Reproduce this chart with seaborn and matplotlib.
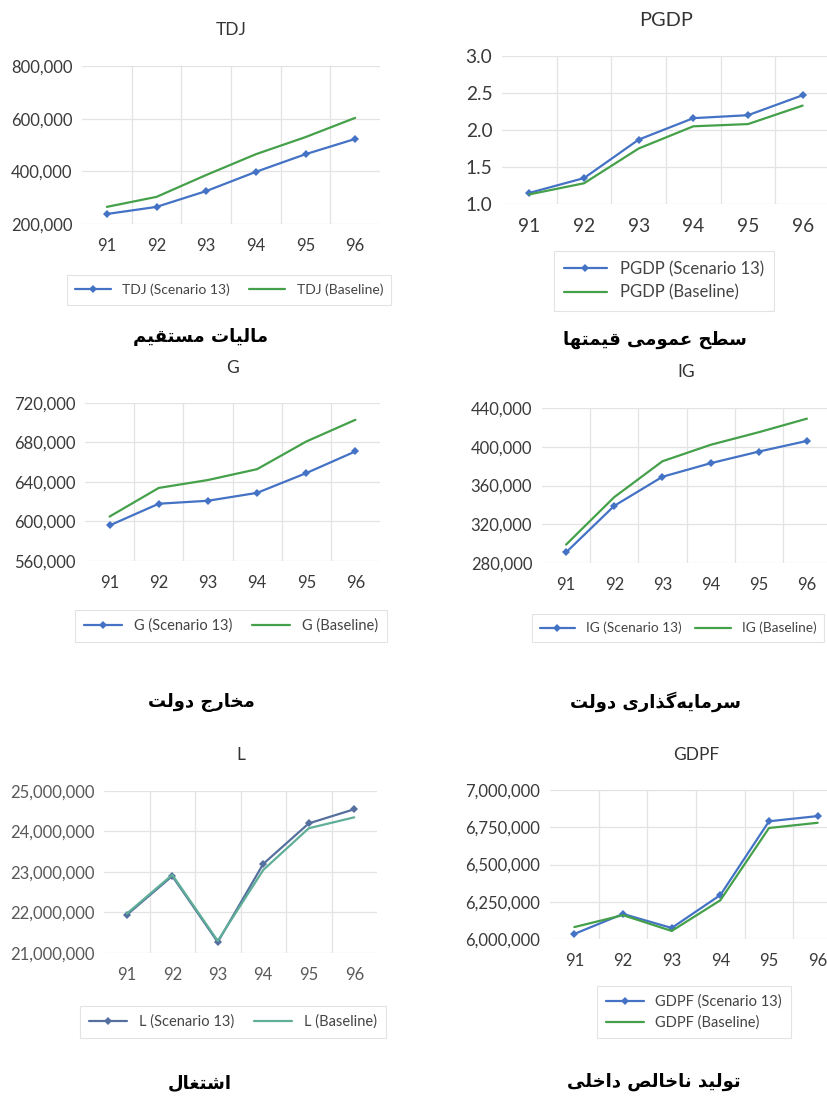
import matplotlib
matplotlib.use("Agg")
import matplotlib.pyplot as plt
import numpy as np
import pandas as pd
import seaborn as sns
from matplotlib.ticker import FuncFormatter


YEARS = ["91", "92", "93", "94", "95", "96"]

TDJ_SCENARIO = [238000, 265000, 325000, 398000, 465000, 523000]
TDJ_BASELINE = [265000, 303000, 386000, 465000, 530000, 603000]
TDJ_TICKS = [200000, 400000, 600000, 800000]

PGDP_SCENARIO = [1.15, 1.35, 1.87, 2.16, 2.20, 2.47]
PGDP_BASELINE = [1.13, 1.28, 1.75, 2.05, 2.08, 2.33]
PGDP_TICKS = [1.0, 1.5, 2.0, 2.5, 3.0]

G_SCENARIO = [596000, 618000, 621000, 629000, 649000, 671000]
G_BASELINE = [605000, 634000, 642000, 653000, 681000, 703000]
G_TICKS = [560000, 600000, 640000, 680000, 720000]

IG_SCENARIO = [291000, 339000, 369000, 383000, 395000, 406000]
IG_BASELINE = [299000, 348000, 385000, 402000, 415000, 429000]
IG_TICKS = [280000, 320000, 360000, 400000, 440000]

L_SCENARIO = [21940000, 22900000, 21270000, 23200000, 24200000, 24550000]
L_BASELINE = [21970000, 22930000, 21300000, 23050000, 24080000, 24350000]
L_TICKS = [21000000, 22000000, 23000000, 24000000, 25000000]

GDPF_SCENARIO = [6034000, 6168000, 6074000, 6295000, 6790000, 6825000]
GDPF_BASELINE = [6080000, 6160000, 6054000, 6260000, 6745000, 6780000]
GDPF_TICKS = [6000000, 6250000, 6500000, 6750000, 7000000]

CAPTIONS = [
    "مالیات مستقیم",
    "سطح عمومی قیمتها",
    "مخارج دولت",
    "سرمایه\u200cگذاری دولت",
    "اشتغال",
    "تولید ناخالص داخلی",
]

W, H = 827, 1100

# isolated, final, initial, medial (None = does not join to the next letter)
FORMS = {
    "ا": ("\uFE8D", "\uFE8E", None, None),
    "ت": ("\uFE95", "\uFE96", "\uFE97", "\uFE98"),
    "ج": ("\uFE9D", "\uFE9E", "\uFE9F", "\uFEA0"),
    "ح": ("\uFEA1", "\uFEA2", "\uFEA3", "\uFEA4"),
    "خ": ("\uFEA5", "\uFEA6", "\uFEA7", "\uFEA8"),
    "د": ("\uFEA9", "\uFEAA", None, None),
    "ذ": ("\uFEAB", "\uFEAC", None, None),
    "ر": ("\uFEAD", "\uFEAE", None, None),
    "س": ("\uFEB1", "\uFEB2", "\uFEB3", "\uFEB4"),
    "ش": ("\uFEB5", "\uFEB6", "\uFEB7", "\uFEB8"),
    "ص": ("\uFEB9", "\uFEBA", "\uFEBB", "\uFEBC"),
    "ط": ("\uFEC1", "\uFEC2", "\uFEC3", "\uFEC4"),
    "ع": ("\uFEC9", "\uFECA", "\uFECB", "\uFECC"),
    "غ": ("\uFECD", "\uFECE", "\uFECF", "\uFED0"),
    "ق": ("\uFED5", "\uFED6", "\uFED7", "\uFED8"),
    "ل": ("\uFEDD", "\uFEDE", "\uFEDF", "\uFEE0"),
    "م": ("\uFEE1", "\uFEE2", "\uFEE3", "\uFEE4"),
    "ن": ("\uFEE5", "\uFEE6", "\uFEE7", "\uFEE8"),
    "ه": ("\uFEE9", "\uFEEA", "\uFEEB", "\uFEEC"),
    "و": ("\uFEED", "\uFEEE", None, None),
    "ی": ("\uFBFC", "\uFBFD", "\uFBFE", "\uFBFF"),
    "گ": ("\uFB92", "\uFB93", "\uFB94", "\uFB95"),
}


def shape_persian(text: str) -> str:
    # matplotlib has no Arabic shaping, so pick presentation forms and reverse
    chars = list(text)
    out = []
    for i, c in enumerate(chars):
        if c not in FORMS:
            out.append(c)
            continue
        prev = chars[i - 1] if i > 0 else None
        nxt = chars[i + 1] if i + 1 < len(chars) else None
        join_prev = prev in FORMS and FORMS[prev][2] is not None
        join_next = FORMS[c][2] is not None and nxt in FORMS
        iso, fin, ini, med = FORMS[c]
        if join_prev and join_next:
            out.append(med)
        elif join_prev:
            out.append(fin)
        elif join_next:
            out.append(ini)
        else:
            out.append(iso)
    out = [o for o in out if o != "\u200c"]
    return "".join(reversed(out))


def px_box(left, top, right, bottom):
    return [left / W, 1 - bottom / H, (right - left) / W, (bottom - top) / H]


def fmt_thousands(v, _pos):
    return f"{v:,.0f}"


def fmt_decimal(v, _pos):
    return f"{v:.1f}"


def draw_panel(fig, box, name, scenario, baseline, ticks, formatter, title_y,
               legend_ncol, legend_xy, caption, caption_xy, scale=1.0, legend_size=10.5,
               col_space=1.4, blue="#4472C4", green="#45a04a", tick_color="#3a3a3a"):
    ax = fig.add_axes(px_box(*box))
    x = np.arange(len(YEARS))
    scen_df = pd.DataFrame({"x": x, "value": scenario})
    base_df = pd.DataFrame({"x": x, "value": baseline})
    sns.lineplot(data=scen_df, x="x", y="value", color=blue, lw=1.6, marker="D",
                 markersize=3.8, markeredgewidth=0, label=f"{name} (Scenario 13)", ax=ax)
    sns.lineplot(data=base_df, x="x", y="value", color=green, lw=1.6,
                 label=f"{name} (Baseline)", ax=ax)

    ax.set_xlim(-0.5, len(YEARS) - 0.5)
    ax.set_ylim(ticks[0], ticks[-1])
    ax.set_xticks(x)
    ax.set_xticklabels(YEARS)
    ax.set_xticks(np.arange(0.5, len(YEARS) - 1, 1.0), minor=True)
    ax.set_yticks(ticks)
    ax.yaxis.set_major_formatter(FuncFormatter(formatter))
    ax.grid(True, which="major", axis="y", color="#e3e3e3", lw=0.9)
    ax.grid(True, which="minor", axis="x", color="#e3e3e3", lw=0.9)
    ax.grid(False, which="major", axis="x")
    ax.tick_params(axis="both", which="both", length=0, labelsize=12 * scale,
                   colors=tick_color)
    ax.tick_params(axis="x", pad=10)
    ax.tick_params(axis="y", pad=7)
    for spine in ax.spines.values():
        spine.set_visible(False)
    ax.set_xlabel("")
    ax.set_ylabel("")
    ax.set_facecolor("none")

    cx = (box[0] + box[2]) / 2
    fig.text(cx / W, 1 - title_y / H, name, ha="center", va="center",
             fontsize=12.5 * scale, color="#333333")

    leg = ax.legend(loc="center", bbox_to_anchor=(legend_xy[0] / W, 1 - legend_xy[1] / H),
                    bbox_transform=fig.transFigure, ncol=legend_ncol, fontsize=legend_size,
                    frameon=True, fancybox=False, edgecolor="#dcdcdc",
                    handlelength=2.6, columnspacing=col_space, borderpad=0.6,
                    labelspacing=0.45, numpoints=1)
    leg.get_frame().set_linewidth(0.8)
    for t in leg.get_texts():
        t.set_color("#444444")

    fig.text(caption_xy[0] / W, 1 - caption_xy[1] / H, shape_persian(caption),
             ha="center", va="center", fontsize=13, fontweight="bold",
             family=["DejaVu Sans"], color="black")
    return ax


def main() -> None:
    sns.set_theme(style="white")
    plt.rcParams["font.family"] = ["Lato", "DejaVu Sans"]

    fig = plt.figure(figsize=(W / 100, H / 100), dpi=100)
    fig.patch.set_facecolor("white")

    draw_panel(fig, (82, 66, 380, 224), "TDJ", TDJ_SCENARIO, TDJ_BASELINE, TDJ_TICKS,
               fmt_thousands, 30, 2, (229, 290), CAPTIONS[0], (201, 337), legend_size=10)
    draw_panel(fig, (502, 56, 830, 204), "PGDP", PGDP_SCENARIO, PGDP_BASELINE, PGDP_TICKS,
               fmt_decimal, 21, 1, (664, 281), CAPTIONS[1], (655, 340),
               scale=1.15, legend_size=12)
    draw_panel(fig, (85, 403, 380, 561), "G", G_SCENARIO, G_BASELINE, G_TICKS,
               fmt_thousands, 368, 2, (231, 626), CAPTIONS[2], (201, 702))
    draw_panel(fig, (542, 408, 831, 563), "IG", IG_SCENARIO, IG_BASELINE, IG_TICKS,
               fmt_thousands, 372, 2, (678, 628), CAPTIONS[3], (656, 702),
               legend_size=9.8, col_space=1.0)
    draw_panel(fig, (104, 791, 377, 953), "L", L_SCENARIO, L_BASELINE, L_TICKS,
               fmt_thousands, 755, 2, (233, 1022), CAPTIONS[4], (200, 1083),
               blue="#55709e", green="#5fae98", tick_color="#5a5a5a")
    draw_panel(fig, (550, 790, 842, 939), "GDPF", GDPF_SCENARIO, GDPF_BASELINE, GDPF_TICKS,
               fmt_thousands, 755, 1, (694, 1012), CAPTIONS[5], (654, 1082))

    fig.savefig("out.png", dpi=100, facecolor="white")
    plt.close(fig)


if __name__ == "__main__":
    main()
